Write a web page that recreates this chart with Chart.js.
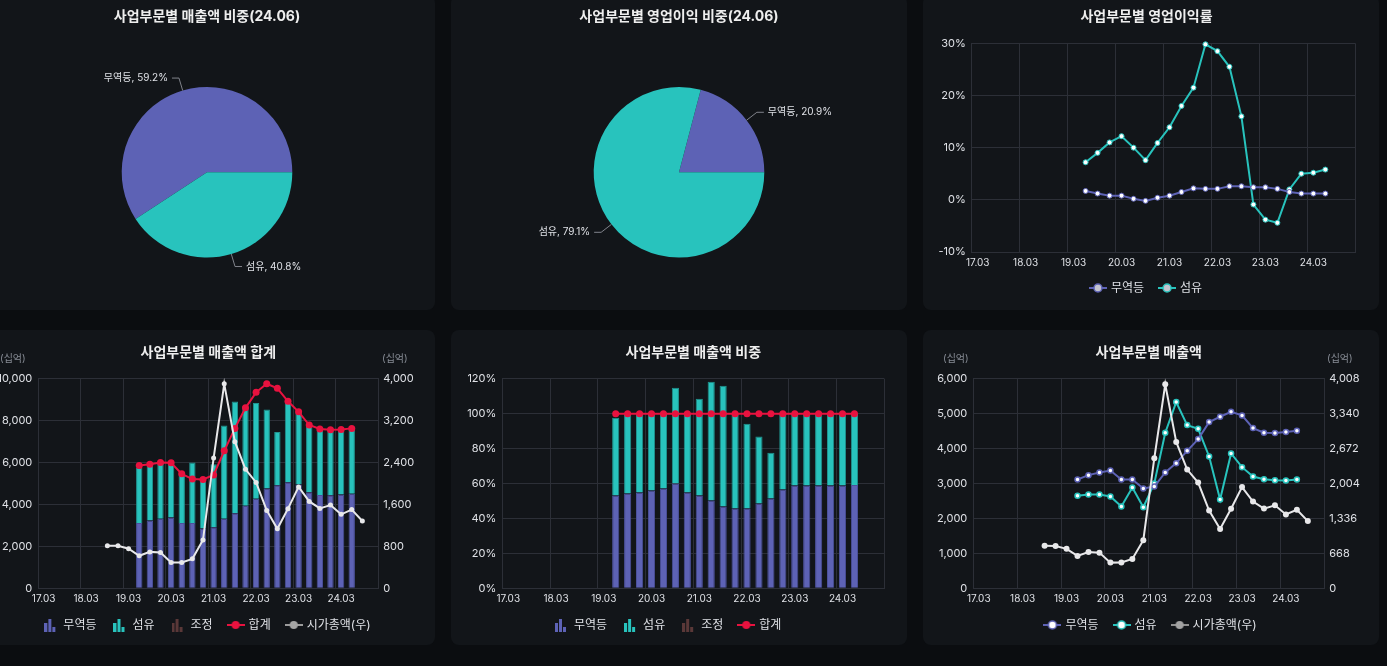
<!DOCTYPE html>
<html lang="ko">
<head>
<meta charset="utf-8">
<title>사업부문별 실적</title>
<script src="https://cdn.jsdelivr.net/npm/chart.js@4.4.1/dist/chart.umd.min.js"></script>
<style>
  html, body { margin: 0; padding: 0; width: 1387px; height: 666px; overflow: hidden; background: #0b0d10; }
  .panel { position: absolute; width: 456px; height: 315px; background: #121519; border-radius: 8px; }
  .panel canvas { display: block; }
</style>
</head>
<body>
<div class="panel" style="left:-21px;top:-5px"><canvas id="salesPie" width="456" height="315"></canvas></div>
<div class="panel" style="left:451px;top:-5px"><canvas id="profitPie" width="456" height="315"></canvas></div>
<div class="panel" style="left:923px;top:-5px"><canvas id="marginChart" width="456" height="315"></canvas></div>
<div class="panel" style="left:-21px;top:330px"><canvas id="totalChart" width="456" height="315"></canvas></div>
<div class="panel" style="left:451px;top:330px"><canvas id="shareChart" width="456" height="315"></canvas></div>
<div class="panel" style="left:923px;top:330px"><canvas id="salesChart" width="456" height="315"></canvas></div>
<script>
const N = null;

const quarters = ['17.03', '17.06', '17.09', '17.12', '18.03', '18.06', '18.09', '18.12',
  '19.03', '19.06', '19.09', '19.12', '20.03', '20.06', '20.09', '20.12',
  '21.03', '21.06', '21.09', '21.12', '22.03', '22.06', '22.09', '22.12',
  '23.03', '23.06', '23.09', '23.12', '24.03', '24.06', '24.09', '24.12'];

// 매출액 (십억)
const tradeSales = [N, N, N, N, N, N, N, N, N, 3115, 3239, 3315, 3373, 3115, 3115, 2857, 2914, 3315, 3583, 3936,
  4271, 4758, 4911, 5054, 4949, 4586, 4452, 4443, 4471, 4510, N, N];
const fiberSales = [N, N, N, N, N, N, N, N, N, 2646, 2685, 2685, 2627, 2341, 2885, 2322, 3000, 4452, 5331, 4672,
  4567, 3774, 2541, 3860, 3468, 3201, 3124, 3095, 3086, 3115, N, N];
const adjustSales = quarters.map(() => null);
const totalSales = [N, N, N, N, N, N, N, N, N, 5860, 5920, 6000, 5990, 5460, 5210, 5190, 5410, 6560, 7630, 8610,
  9350, 9760, 9540, 8920, 8420, 7790, 7600, 7560, 7580, 7630, N, N];
const marketCap = [N, N, N, N, N, N, 812, 810, 755, 620, 695, 682, 491, 494, 562, 921, 2486, 3902, 2799, 2270,
  2021, 1486, 1135, 1520, 1935, 1658, 1524, 1588, 1412, 1502, 1285, N];

// 매출액 비중 (%)
const tradeShare = [N, N, N, N, N, N, N, N, N, 53.1, 54.3, 54.9, 56.0, 57.1, 60.0, 54.9, 53.1, 50.3, 46.9, 45.7,
  45.7, 48.6, 51.4, 56.6, 58.9, 58.9, 58.9, 58.9, 58.9, 59.2, N, N];
const fiberShare = [N, N, N, N, N, N, N, N, N, 44.6, 45.7, 45.1, 44.0, 42.9, 54.9, 45.1, 55.5, 68.0, 69.1, 54.3,
  48.6, 38.3, 26.3, 43.4, 41.1, 41.1, 41.1, 41.1, 41.1, 40.8, N, N];
const totalShare = [N, N, N, N, N, N, N, N, N, 100, 100, 100, 100, 100, 100, 100, 100, 100, 100, 100,
  100, 100, 100, 100, 100, 100, 100, 100, 100, 100, N, N];

// 영업이익률 (%)
const tradeMargin = [N, N, N, N, N, N, N, N, N, 1.7, 1.2, 0.8, 0.8, 0.2, -0.2, 0.4, 0.8, 1.5, 2.2, 2.1,
  2.1, 2.6, 2.6, 2.4, 2.4, 2.1, 1.5, 1.2, 1.2, 1.2, N, N];
const fiberMargin = [N, N, N, N, N, N, N, N, N, 7.2, 9.0, 11.0, 12.2, 10.0, 7.6, 10.9, 13.9, 18.0, 21.5, 29.8,
  28.5, 25.5, 16.0, -0.9, -3.8, -4.4, 2.0, 5.0, 5.2, 5.8, N, N];

// 24.06 비중
const segments = ['무역등', '섬유'];
const salesMix = [59.2, 40.8];
const profitMix = [20.9, 79.1];

const PURPLE = '#5d62b5';
const PURPLE_EDGE = '#4c519c';
const TEAL = '#28c3bd';
const TEAL_EDGE = '#1f948f';
const BROWN = '#5a3838';
const RED = '#e8123f';
const WHITE_LINE = '#e8e8ea';
const GRID = '#2c2f37';
const TICK = '#dfe1e6';
const TITLE = '#eeeeee';
const UNIT = '#878c95';

Chart.defaults.font.family = "Inter, 'Noto Sans CJK KR', sans-serif";
Chart.defaults.color = TICK;

const fmt = (v) => Number(v).toLocaleString('en-US');

function barIcon(color) {
  const c = document.createElement('canvas');
  c.width = 12;
  c.height = 14;
  const g = c.getContext('2d');
  g.fillStyle = color;
  g.fillRect(0, 5, 3, 9);
  g.fillRect(4, 1, 3, 13);
  g.fillRect(8, 9, 3, 5);
  return c;
}

function lineIcon(lineColor, fill, ring) {
  const c = document.createElement('canvas');
  c.width = 18;
  c.height = 10;
  const g = c.getContext('2d');
  g.strokeStyle = lineColor;
  g.lineWidth = 2;
  g.beginPath();
  g.moveTo(0, 5);
  g.lineTo(18, 5);
  g.stroke();
  g.beginPath();
  g.arc(9, 5, 4, 0, Math.PI * 2);
  g.fillStyle = fill;
  g.fill();
  if (ring) {
    g.lineWidth = 1.5;
    g.strokeStyle = ring;
    g.stroke();
  }
  return c;
}

const titleOpts = (text, top, bottom, fullSize = false) => ({
  display: true,
  text,
  color: TITLE,
  fullSize,
  font: { size: 14, weight: 'bold' },
  padding: { top, bottom },
});

const legendOpts = (icons) => ({
  position: 'bottom',
  labels: {
    usePointStyle: true,
    pointStyleWidth: 14,
    padding: 16,
    color: TICK,
    font: { size: 12 },
    generateLabels(chart) {
      const items = Chart.defaults.plugins.legend.labels.generateLabels(chart);
      items.sort((a, b) => a.datasetIndex - b.datasetIndex);
      items.forEach((item) => { item.pointStyle = icons[item.datasetIndex]; });
      return items;
    },
  },
});

const quarterAxis = (height) => ({
  type: 'category',
  offset: true,
  grid: {
    offset: true,
    drawTicks: false,
    color: (ctx) => (ctx.type !== 'tick' || ctx.index % 4 === 0 ? GRID : 'transparent'),
  },
  border: { color: GRID },
  ticks: {
    autoSkip: false,
    maxRotation: 0,
    padding: 5,
    color: TICK,
    font: { size: 10 },
    callback(value, index) {
      return index % 4 === 0 ? this.getLabelForValue(value) : '';
    },
  },
  afterFit(scale) { scale.height = height; },
});

const valueAxis = (min, max, step, width, format, right) => ({
  position: right ? 'right' : 'left',
  min,
  max,
  grid: { display: !right, color: GRID, drawTicks: false },
  border: { color: GRID },
  ticks: { stepSize: step, padding: right ? 5 : 6, color: TICK, font: { size: 11 }, callback: format },
  afterFit(scale) { scale.width = width; },
});

const pieCallouts = {
  id: 'pieCallouts',
  afterDatasetsDraw(chart) {
    const { ctx } = chart;
    const meta = chart.getDatasetMeta(0);
    const values = chart.data.datasets[0].data;
    ctx.save();
    ctx.font = "10px Inter, 'Noto Sans CJK KR', sans-serif";
    ctx.textBaseline = 'middle';
    meta.data.forEach((arc, i) => {
      const { x, y, startAngle, endAngle, outerRadius } = arc.getProps(['x', 'y', 'startAngle', 'endAngle', 'outerRadius'], true);
      const mid = (startAngle + endAngle) / 2;
      const cos = Math.cos(mid);
      const sin = Math.sin(mid);
      const x1 = x + cos * (outerRadius + 13);
      const y1 = y + sin * (outerRadius + 13);
      const dir = cos >= 0 ? 1 : -1;
      ctx.strokeStyle = '#80838b';
      ctx.lineWidth = 1;
      ctx.beginPath();
      ctx.moveTo(x + cos * outerRadius, y + sin * outerRadius);
      ctx.lineTo(x1, y1);
      ctx.lineTo(x1 + dir * 7, y1);
      ctx.stroke();
      ctx.fillStyle = TICK;
      ctx.textAlign = dir > 0 ? 'left' : 'right';
      ctx.fillText(`${chart.data.labels[i]}, ${values[i].toFixed(1)}%`, x1 + dir * 11, y1);
    });
    ctx.restore();
  },
};

const unitLabels = {
  id: 'unitLabels',
  afterDraw(chart, args, opts) {
    if (!opts.at) return;
    const { ctx } = chart;
    ctx.save();
    ctx.font = "10px Inter, 'Noto Sans CJK KR', sans-serif";
    ctx.fillStyle = UNIT;
    ctx.textBaseline = 'middle';
    ctx.textAlign = 'left';
    opts.at.forEach((x) => ctx.fillText('(십억)', x, opts.y));
    ctx.restore();
  },
};

const pieChart = (id, title, values) => new Chart(document.getElementById(id), {
  type: 'pie',
  data: {
    labels: segments,
    datasets: [{ data: values, backgroundColor: [PURPLE, TEAL], borderWidth: 0 }],
  },
  options: {
    responsive: false,
    animation: false,
    rotation: 450 - 3.6 * values[0],
    layout: { padding: { bottom: 52.4 } },
    plugins: {
      legend: { display: false },
      tooltip: { enabled: false },
      title: titleOpts(title, 13.6, 61.6, true),
    },
  },
  plugins: [pieCallouts],
});

pieChart('salesPie', '사업부문별 매출액 비중(24.06)', salesMix);
pieChart('profitPie', '사업부문별 영업이익 비중(24.06)', profitMix);

const marginLine = (label, data, color) => ({
  label,
  data,
  borderColor: color,
  backgroundColor: color,
  borderWidth: 2,
  pointRadius: 2.5,
  pointBackgroundColor: '#ffffff',
  pointBorderColor: color,
  pointBorderWidth: 1,
  clip: false,
});

new Chart(document.getElementById('marginChart'), {
  type: 'line',
  data: {
    labels: quarters,
    datasets: [
      marginLine('무역등', tradeMargin, PURPLE),
      marginLine('섬유', fiberMargin, TEAL),
    ],
  },
  options: {
    responsive: false,
    animation: false,
    layout: { padding: { left: 0, right: 9, bottom: 6 } },
    scales: {
      x: quarterAxis(14),
      y: valueAxis(-10, 30, 10, 48.7, (v) => `${v}%`, false),
      yr: {
        position: 'right',
        grid: { display: false },
        border: { display: false },
        ticks: { display: false },
        afterFit(scale) { scale.width = 14.7; },
      },
    },
    plugins: {
      legend: legendOpts([lineIcon(PURPLE, '#c4c4cf', PURPLE), lineIcon(TEAL, '#c4c4cf', TEAL)]),
      tooltip: { enabled: false },
      title: titleOpts('사업부문별 영업이익률', 13.6, 17.9, true),
    },
  },
});

const stackBar = (label, data, color, edge) => ({
  type: 'bar',
  label,
  data,
  backgroundColor: color,
  borderColor: edge,
  borderWidth: 1,
  stack: 'sales',
  order: 2,
  categoryPercentage: 0.8,
  barPercentage: 0.75,
});

const redLine = (data) => ({
  type: 'line',
  label: '합계',
  data,
  borderColor: RED,
  backgroundColor: RED,
  borderWidth: 2,
  pointRadius: 3.5,
  pointBackgroundColor: RED,
  pointBorderWidth: 0,
  order: 1,
  clip: false,
});

const capLine = (radius) => ({
  type: 'line',
  label: '시가총액(우)',
  data: marketCap,
  yAxisID: 'y1',
  borderColor: WHITE_LINE,
  backgroundColor: WHITE_LINE,
  borderWidth: 2,
  pointRadius: radius,
  pointBackgroundColor: WHITE_LINE,
  pointBorderWidth: 0,
  order: 0,
  clip: false,
});

new Chart(document.getElementById('totalChart'), {
  type: 'bar',
  data: {
    labels: quarters,
    datasets: [
      stackBar('무역등', tradeSales, PURPLE, PURPLE_EDGE),
      stackBar('섬유', fiberSales, TEAL, TEAL_EDGE),
      stackBar('조정', adjustSales, BROWN, BROWN),
      redLine(totalSales),
      capLine(2.5),
    ],
  },
  options: {
    responsive: false,
    animation: false,
    layout: { padding: { left: 0, right: 0, bottom: 4 } },
    scales: {
      x: { ...quarterAxis(14.7), stacked: true },
      y: { ...valueAxis(0, 10000, 2000, 59.3, fmt, false), stacked: true },
      y1: valueAxis(0, 4000, 800, 56.7, fmt, true),
    },
    plugins: {
      legend: legendOpts([barIcon(PURPLE), barIcon(TEAL), barIcon(BROWN), lineIcon(RED, RED), lineIcon('#9b9b9b', '#a5a5a5')]),
      tooltip: { enabled: false },
      title: titleOpts('사업부문별 매출액 합계', 14.6, 17.3),
      unitLabels: { y: 29, at: [21, 403] },
    },
  },
  plugins: [unitLabels],
});

new Chart(document.getElementById('shareChart'), {
  type: 'bar',
  data: {
    labels: quarters,
    datasets: [
      stackBar('무역등', tradeShare, PURPLE, PURPLE_EDGE),
      stackBar('섬유', fiberShare, TEAL, TEAL_EDGE),
      stackBar('조정', adjustSales, BROWN, BROWN),
      redLine(totalShare),
    ],
  },
  options: {
    responsive: false,
    animation: false,
    layout: { padding: { left: 0, right: 22.7, bottom: 4 } },
    scales: {
      x: { ...quarterAxis(14.7), stacked: true },
      y: { ...valueAxis(0, 120, 20, 51.3, (v) => `${v}%`, false), stacked: true },
    },
    plugins: {
      legend: legendOpts([barIcon(PURPLE), barIcon(TEAL), barIcon(BROWN), lineIcon(RED, RED)]),
      tooltip: { enabled: false },
      title: titleOpts('사업부문별 매출액 비중', 14.6, 17.4),
    },
  },
});

const salesLine = (label, data, color) => ({
  label,
  data,
  borderColor: color,
  backgroundColor: color,
  borderWidth: 2,
  pointRadius: 2.5,
  pointBackgroundColor: '#ffffff',
  pointBorderColor: color,
  pointBorderWidth: 1.5,
  order: 1,
  clip: false,
});

new Chart(document.getElementById('salesChart'), {
  type: 'line',
  data: {
    labels: quarters,
    datasets: [
      salesLine('무역등', tradeSales, PURPLE),
      salesLine('섬유', fiberSales, TEAL),
      capLine(3),
    ],
  },
  options: {
    responsive: false,
    animation: false,
    layout: { padding: { left: 0, right: 0, bottom: 4 } },
    scales: {
      x: quarterAxis(14.7),
      y: valueAxis(0, 6000, 1000, 50.3, fmt, false),
      y1: valueAxis(0, 4008, 668, 54.7, fmt, true),
    },
    plugins: {
      legend: legendOpts([lineIcon(PURPLE, '#ffffff', PURPLE), lineIcon(TEAL, '#ffffff', TEAL), lineIcon('#8f8f8f', '#a3a3a3')]),
      tooltip: { enabled: false },
      title: titleOpts('사업부문별 매출액', 14.6, 17.3),
      unitLabels: { y: 29, at: [20, 404] },
    },
  },
  plugins: [unitLabels],
});
</script>
</body>
</html>
